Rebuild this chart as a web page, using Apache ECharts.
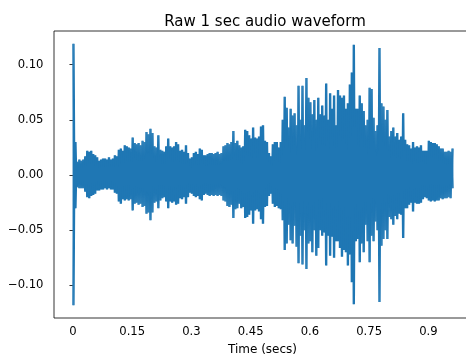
<!DOCTYPE html>
<html>
<head>
<meta charset="utf-8">
<script src="https://cdn.jsdelivr.net/npm/echarts@6/dist/echarts.min.js"></script>
<style>html,body{margin:0;padding:0;background:#fff}#c{width:466px;height:358px}</style>
</head>
<body>
<div id="c"></div>
<script>
// Envelope of the waveform: one bucket every 0.005 s
const bucketSecs = 0.005;
const upper = [
0.119,0.030,0.012,0.014,0.013,0.014,0.017,0.022,0.021,0.022,
0.019,0.018,0.016,0.013,0.014,0.015,0.015,0.014,0.016,0.014,
0.015,0.018,0.017,0.023,0.024,0.022,0.027,0.026,0.025,0.024,
0.034,0.029,0.028,0.029,0.027,0.031,0.030,0.039,0.037,0.042,
0.038,0.026,0.025,0.036,0.023,0.022,0.021,0.026,0.033,0.026,
0.025,0.026,0.030,0.028,0.022,0.023,0.021,0.027,0.020,0.015,
0.016,0.020,0.021,0.019,0.024,0.023,0.018,0.018,0.019,0.020,
0.020,0.019,0.020,0.021,0.019,0.020,0.026,0.027,0.029,0.028,
0.030,0.040,0.029,0.031,0.027,0.025,0.026,0.041,0.040,0.036,
0.033,0.043,0.034,0.033,0.035,0.044,0.045,0.031,0.030,0.020,
0.017,0.028,0.030,0.030,0.025,0.030,0.050,0.071,0.061,0.043,
0.060,0.054,0.056,0.045,0.081,0.050,0.081,0.045,0.088,0.070,
0.066,0.055,0.068,0.050,0.070,0.055,0.063,0.054,0.083,0.050,
0.074,0.060,0.072,0.045,0.077,0.072,0.070,0.072,0.060,0.065,
0.082,0.093,0.118,0.060,0.060,0.072,0.065,0.058,0.045,0.050,
0.079,0.078,0.052,0.040,0.045,0.115,0.065,0.062,0.050,0.059,
0.035,0.040,0.043,0.035,0.038,0.032,0.035,0.056,0.032,0.028,
0.027,0.024,0.030,0.025,0.026,0.025,0.027,0.022,0.022,0.022,
0.031,0.030,0.029,0.029,0.028,0.026,0.024,0.024,0.021,0.021,
0.022,0.021,0.024
];
const lower = [
-0.118,-0.030,-0.011,-0.012,-0.012,-0.012,-0.015,-0.020,-0.021,-0.019,
-0.018,-0.017,-0.014,-0.014,-0.013,-0.013,-0.012,-0.013,-0.012,-0.013,
-0.013,-0.016,-0.017,-0.024,-0.026,-0.022,-0.023,-0.022,-0.023,-0.022,
-0.032,-0.026,-0.025,-0.027,-0.026,-0.029,-0.028,-0.035,-0.034,-0.041,
-0.034,-0.025,-0.024,-0.030,-0.023,-0.021,-0.020,-0.024,-0.030,-0.024,
-0.025,-0.024,-0.027,-0.026,-0.021,-0.022,-0.020,-0.026,-0.020,-0.016,
-0.017,-0.019,-0.020,-0.019,-0.022,-0.023,-0.018,-0.017,-0.018,-0.019,
-0.018,-0.019,-0.018,-0.019,-0.018,-0.019,-0.023,-0.024,-0.028,-0.029,
-0.027,-0.039,-0.031,-0.030,-0.026,-0.030,-0.029,-0.039,-0.038,-0.036,
-0.032,-0.044,-0.032,-0.031,-0.033,-0.040,-0.044,-0.029,-0.028,-0.019,
-0.017,-0.026,-0.029,-0.028,-0.030,-0.031,-0.041,-0.068,-0.062,-0.045,
-0.059,-0.062,-0.046,-0.065,-0.080,-0.055,-0.081,-0.050,-0.085,-0.062,
-0.060,-0.070,-0.050,-0.073,-0.066,-0.050,-0.055,-0.052,-0.082,-0.055,
-0.073,-0.056,-0.075,-0.060,-0.060,-0.066,-0.074,-0.068,-0.070,-0.082,
-0.072,-0.097,-0.117,-0.060,-0.058,-0.079,-0.062,-0.070,-0.045,-0.060,
-0.079,-0.055,-0.060,-0.042,-0.050,-0.115,-0.064,-0.058,-0.050,-0.058,
-0.038,-0.040,-0.045,-0.037,-0.040,-0.035,-0.036,-0.057,-0.030,-0.030,
-0.027,-0.025,-0.033,-0.025,-0.026,-0.026,-0.025,-0.022,-0.020,-0.021,
-0.023,-0.024,-0.023,-0.024,-0.023,-0.023,-0.021,-0.022,-0.021,-0.021,
-0.020,-0.021,-0.012
];
const xTicks = [0, 0.15, 0.3, 0.45, 0.6, 0.75, 0.9];
const yTicks = [-0.1, -0.05, 0, 0.05, 0.1];

// two zig-zag passes through the same envelope so the body reads as solid
const passA = [], passB = [];
for (let i = 0; i < upper.length; i++) {
  const t = i * bucketSecs;
  passA.push([t, upper[i]], [t + bucketSecs / 2, lower[i]]);
  passB.push([t, lower[i]], [t + bucketSecs / 2, upper[i]]);
}

const chart = echarts.init(document.getElementById('c'), null, {renderer: 'canvas'});
const font = 'DejaVu Sans';
const lineSeries = data => ({
  type: 'line', data, showSymbol: false, symbol: 'none',
  lineStyle: {color: '#1f77b4', width: 1.4}, clip: true, silent: true
});
chart.setOption({
  animation: false,
  title: {
    text: 'Raw 1 sec audio waveform',
    left: 260, top: 10, textAlign: 'center',
    textStyle: {fontFamily: font, fontSize: 15, fontWeight: 'normal', color: '#000'}
  },
  grid: {left: 54, top: 31, width: 417, height: 287, outerBoundsMode: 'none', containLabel: false,
    show: true, borderColor: '#000', borderWidth: 0.8, backgroundColor: 'transparent'},
  xAxis: {
    type: 'value', min: -0.048, max: 1.008,
    name: 'Time (secs)', nameLocation: 'middle', nameGap: 26,
    nameTextStyle: {fontFamily: font, fontSize: 12, color: '#000'},
    axisLine: {show: false},
    axisTick: {show: true, length: 3.5, lineStyle: {color: '#000', width: 0.8}, customValues: xTicks},
    axisLabel: {fontFamily: font, fontSize: 11.6, color: '#000', margin: 8, customValues: xTicks,
      formatter: v => String(+v.toFixed(2))},
    splitLine: {show: false}
  },
  yAxis: {
    type: 'value', min: -0.1295, max: 0.1305,
    axisLine: {show: false},
    axisTick: {show: true, length: 3.5, lineStyle: {color: '#000', width: 0.8}, customValues: yTicks},
    axisLabel: {fontFamily: font, fontSize: 11.6, color: '#000', margin: 10.5, customValues: yTicks,
      formatter: v => v.toFixed(2).replace('-', '\u2212')},
    splitLine: {show: false}
  },
  series: [lineSeries(passA), lineSeries(passB)]
});
</script>
</body>
</html>
